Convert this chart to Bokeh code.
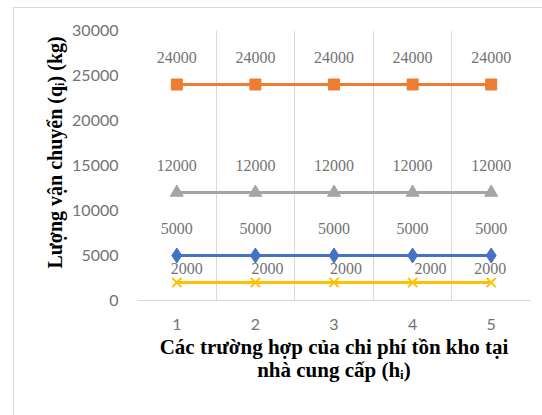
from bokeh.plotting import figure
from bokeh.models import FixedTicker, Range1d, Legend, LegendItem, ColumnDataSource, Title
from bokeh.embed import file_html
from bokeh.resources import INLINE

# Cases of supplier holding cost (h_i)
cases = [1, 2, 3, 4, 5]
# Shipped quantity q_i (kg) per case
q1 = [5000, 5000, 5000, 5000, 5000]
q2 = [24000, 24000, 24000, 24000, 24000]
q3 = [12000, 12000, 12000, 12000, 12000]
q4 = [2000, 2000, 2000, 2000, 2000]
y_ticks = [0, 5000, 10000, 15000, 20000, 25000, 30000]

FONT = "Lato"
TXT = "#737373"
GRID = "#d9d9d9"

p = figure(width=542, height=415, frame_width=393, frame_height=270,
           output_backend="svg", toolbar_location=None,
           x_range=Range1d(0.5, 5.5), y_range=Range1d(0, 30000),
           min_border_left=137, min_border_right=12, min_border_top=30,
           min_border_bottom=115)
p.outline_line_color = None
p.background_fill_color = "white"
p.border_fill_alpha = 0

# thin chart-area border (left and top edges) painted behind the transparent border fill
p.styles = {
    "background": ("linear-gradient(#d9d9d9, #d9d9d9) 13px 7px / 1px 100% no-repeat, "
                   "linear-gradient(#d9d9d9, #d9d9d9) 13px 7px / 100% 1px no-repeat, white"),
}

# x axis: category numbers, boundary gridlines
p.xaxis.ticker = FixedTicker(ticks=cases)
p.xaxis.major_tick_line_color = None
p.xaxis.minor_tick_line_color = None
p.xaxis.axis_line_color = GRID
p.xaxis.axis_line_width = 1
p.xaxis.major_label_text_font = FONT
p.xaxis.major_label_text_font_size = "16px"
p.xaxis.major_label_text_color = TXT
p.xaxis.major_label_standoff = 12
p.xaxis.axis_label = "Các trường hợp của chi phí tồn kho tại\nnhà cung cấp (hᵢ)"
p.xaxis.axis_label_text_font = "Liberation Serif"
p.xaxis.axis_label_text_font_style = "bold"
p.xaxis.axis_label_text_font_size = "21px"
p.xaxis.axis_label_text_color = "black"
p.xaxis.axis_label_text_line_height = 0.97
p.xaxis.axis_label_standoff = 2

p.xgrid.ticker = FixedTicker(ticks=[0.5, 1.5, 2.5, 3.5, 4.5, 5.5])
p.xgrid.grid_line_color = GRID
p.ygrid.grid_line_color = None

p.yaxis.ticker = FixedTicker(ticks=y_ticks)
p.yaxis.major_tick_line_color = None
p.yaxis.minor_tick_line_color = None
p.yaxis.axis_line_color = None
p.yaxis.major_label_text_font = FONT
p.yaxis.major_label_text_font_size = "16px"
p.yaxis.major_label_text_color = TXT
p.yaxis.major_label_standoff = 13

# vertical quantity title, starting a little above the frame bottom
ytitle = Title(text="Lượng vận chuyển (qᵢ) (kg)", align="left", offset=32,
               text_font="Liberation Serif", text_font_style="bold",
               text_font_size="20px", text_color="black", standoff=8)
p.add_layout(ytitle, "left")

series = [
    ("q1", q1, "#4472C4", "diamond", 15, -27, [0, 0, 0, 0, 0]),
    ("q2", q2, "#ED7D31", "square", 11, -27, [0, 0, 0, 0, 0]),
    ("q3", q3, "#A5A5A5", "triangle", 13, -27, [0, 0, 0, 0, 0]),
    ("q4", q4, "#FFC000", "x", 13, -14, [10, 12, 12, 18, -1]),
]

items = []
for name, vals, color, marker, size, dy, dxs in series:
    src = ColumnDataSource(dict(x=cases, y=vals, lbl=[str(v) for v in vals], dx=dxs))
    ln = p.line("x", "y", source=src, line_color=color, line_width=3)
    sc = p.scatter("x", "y", source=src, marker=marker, size=size,
                   fill_color=color, line_color=color,
                   line_width=2 if marker == "x" else 1)
    p.text("x", "y", text="lbl", source=src, x_offset="dx", y_offset=dy,
           text_align="center", text_baseline="middle",
           text_font=FONT, text_font_size="16px", text_color=TXT)
    items.append(LegendItem(label=name, renderers=[ln, sc]))

# legend row under the axis title (first two series), lifted into view
legend = Legend(items=items[:2], orientation="horizontal",
                location=(86, 22), padding=0, margin=0, spacing=39,
                glyph_width=44, glyph_height=20, label_height=20,
                label_standoff=4, label_text_font=FONT,
                label_text_font_size="16px", label_text_color=TXT,
                border_line_color=None, background_fill_alpha=0)
p.add_layout(legend, "below")

open("out.html", "w").write(file_html(p, INLINE))
